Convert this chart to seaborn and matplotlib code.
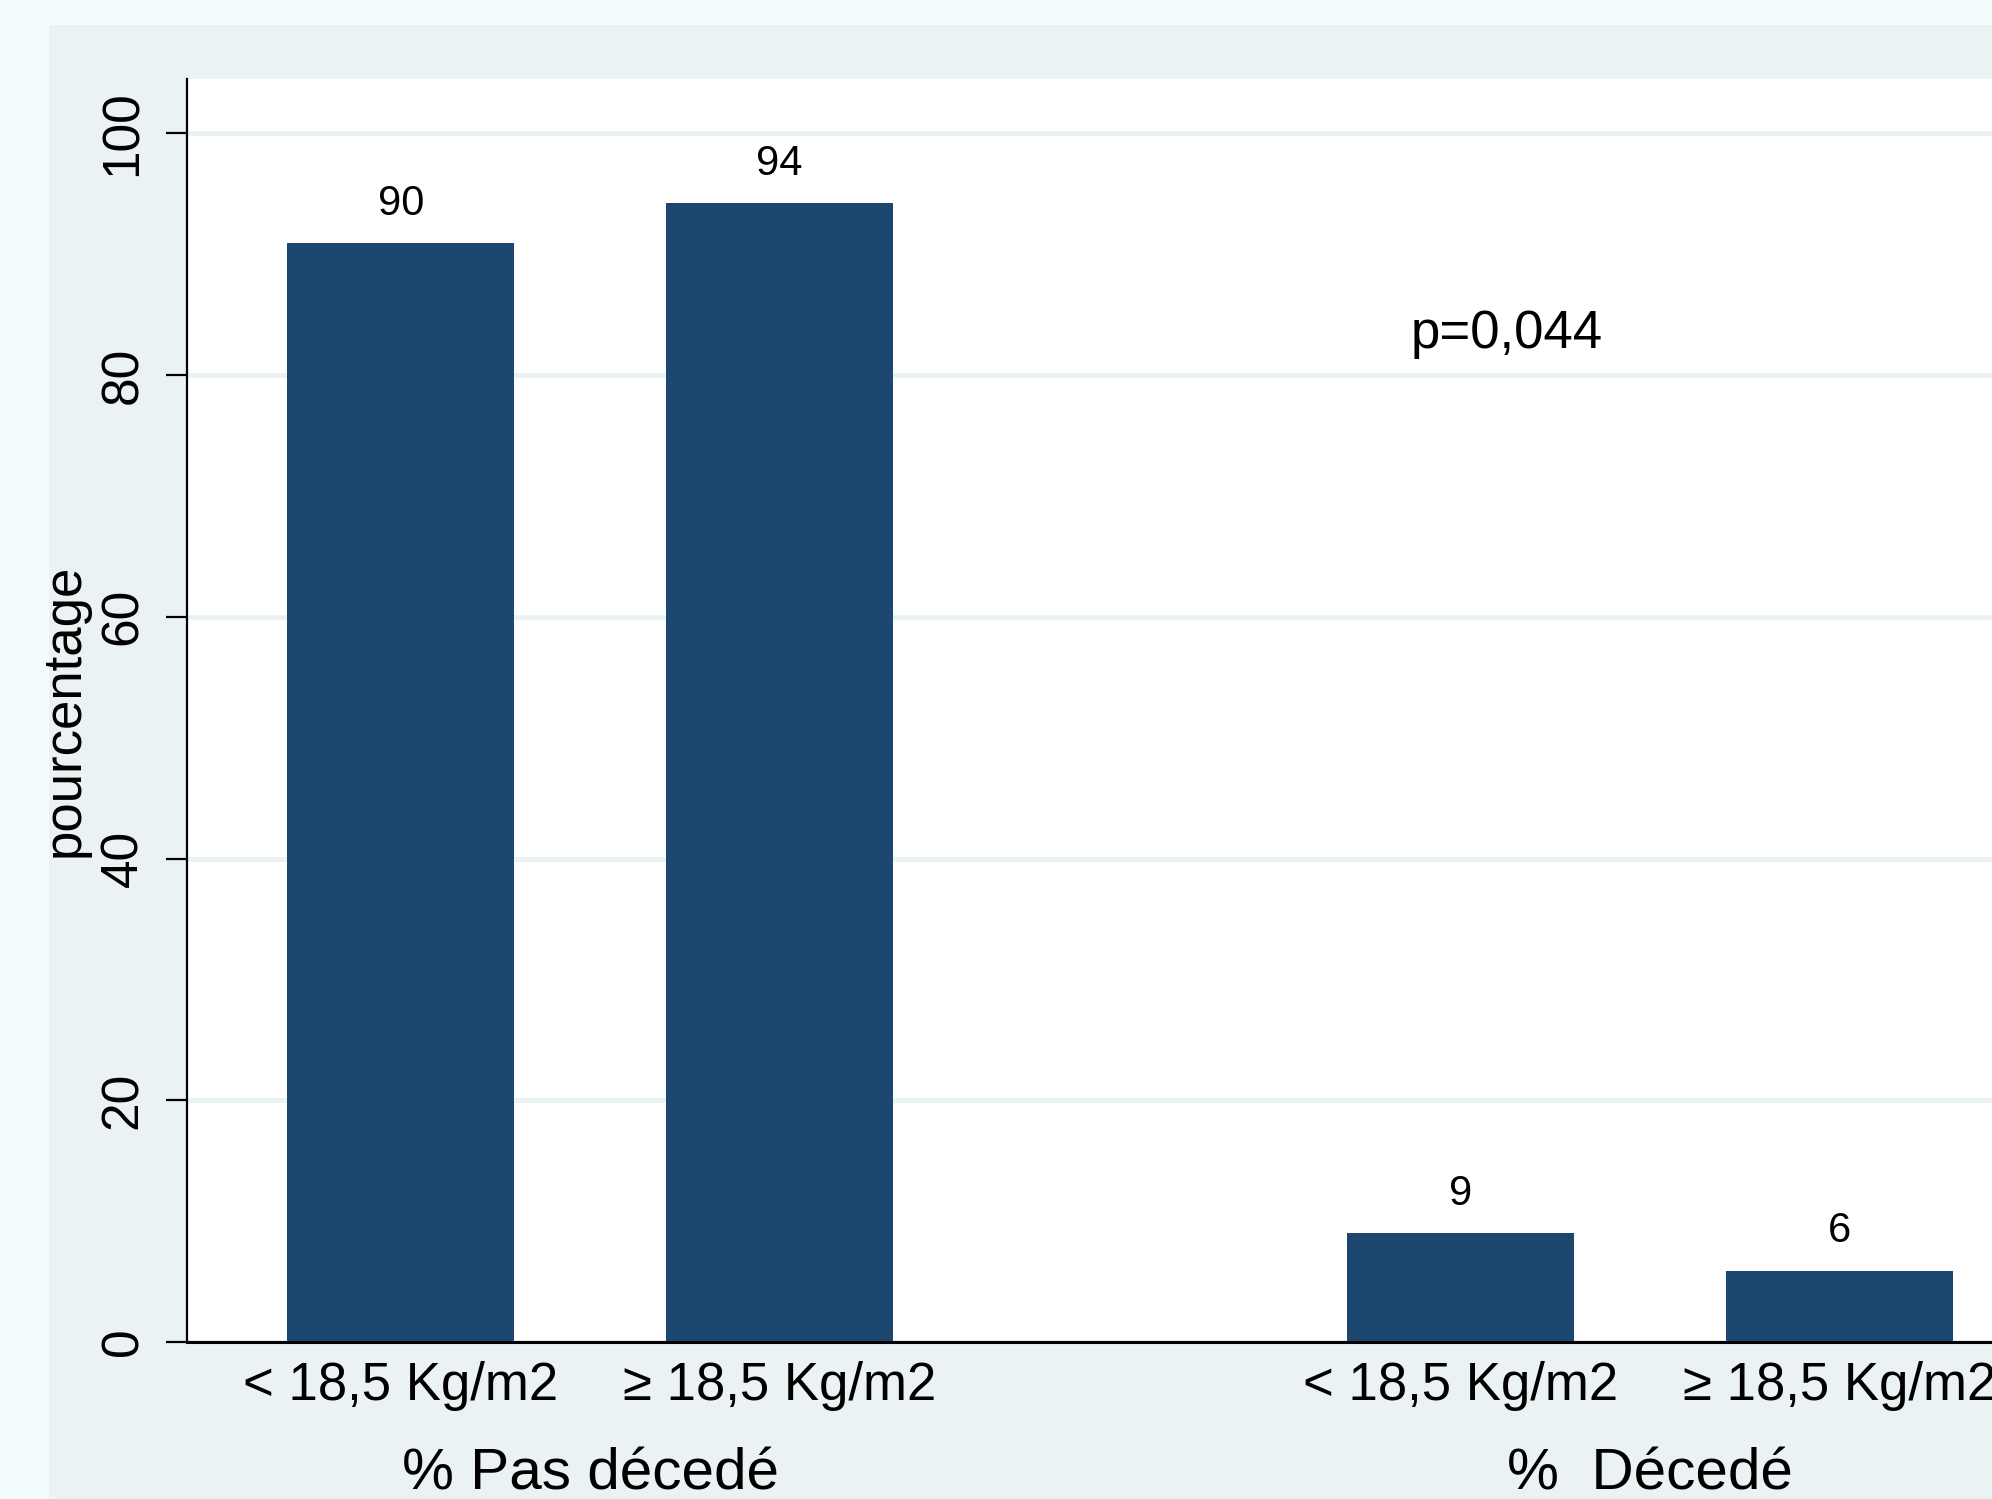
import matplotlib
matplotlib.use("Agg")
import matplotlib.pyplot as plt
import matplotlib.transforms as mtransforms
from matplotlib.patches import Rectangle
import seaborn as sns
import pandas as pd

# Donnees
groupes = ["% Pas décedé", "%  Décedé"]
imc = ["< 18,5 Kg/m2", "≥ 18,5 Kg/m2"]
pourcentages = [90.9, 94.2, 9.0, 5.9]
etiquettes = ["90", "94", "9", "6"]
p_valeur = "p=0,044"
yticks = [0, 20, 40, 60, 80, 100]

# Couleurs style Stata s2color
bleu = "#1c4870"
gris = "#eaf2f3"
fond = "#f4fdfd"

sns.set_theme(style="white")
plt.rcParams["font.family"] = ["Liberation Sans", "DejaVu Sans"]
plt.rcParams["text.color"] = "black"
plt.rcParams["axes.labelcolor"] = "black"
plt.rcParams["xtick.color"] = "black"
plt.rcParams["ytick.color"] = "black"

# Position des barres : deux groupes separes par un espace
ecart = 2.8
pos = [g * ecart + i for g in range(len(groupes)) for i in range(len(imc))]
df = pd.DataFrame({"pos": pos, "pct": pourcentages})

W, H = 1992, 1499
fig = plt.figure(figsize=(W / 200, H / 200), dpi=200, facecolor=fond)
# Panneau gris (graph region)
fig.add_artist(Rectangle((49 / W, 0), 1, 1 - 25 / H, transform=fig.transFigure,
                         facecolor=gris, edgecolor="none", zorder=-1))

ax = fig.add_axes([187 / W, 1 - 1342 / H, 1 - 187 / W, (1342 - 79) / H])
ax.set_facecolor("white")

sns.barplot(data=df, x="pos", y="pct", native_scale=True, width=0.6,
            color=bleu, saturation=1, linewidth=0, errorbar=None, ax=ax)

# Valeurs au-dessus des barres
ax.bar_label(ax.containers[0], labels=etiquettes, padding=7, fontsize=15)

ax.set_xlim(-0.565, 4.203)
ax.set_ylim(0, 104.5)
ax.set_xticks(pos, imc * len(groupes), fontsize=19)
ax.set_yticks(yticks, [str(v) for v in yticks], fontsize=18.5)
plt.setp(ax.get_yticklabels(), rotation=90, va="center")
ax.tick_params(axis="x", length=0, pad=7)
ax.tick_params(axis="y", left=True, length=7.5, width=0.8, color="black", pad=6.5)

ax.set_xlabel("")
ax.set_ylabel("pourcentage", fontsize=19)
ax.yaxis.set_label_coords(-0.054, 0.5)

# Grille
ax.yaxis.grid(True, color=gris, linewidth=1.7)
ax.set_axisbelow(True)

# Axes
for cote in ["top", "right"]:
    ax.spines[cote].set_visible(False)
ax.spines["left"].set_color("black")
ax.spines["left"].set_linewidth(0.8)
ax.spines["bottom"].set_color("black")
ax.spines["bottom"].set_linewidth(1.1)

# Noms des groupes sous les etiquettes
trans = mtransforms.blended_transform_factory(ax.transData, ax.transAxes)
for g, nom in enumerate(groupes):
    centre = g * ecart + (len(imc) - 1) / 2
    ax.text(centre, -0.105, nom, transform=trans, ha="center", va="center", fontsize=21)

# p-valeur
ax.text(2.921, 83.4, p_valeur, ha="center", va="center", fontsize=19)

fig.savefig("out.png", dpi=200, facecolor=fond)
